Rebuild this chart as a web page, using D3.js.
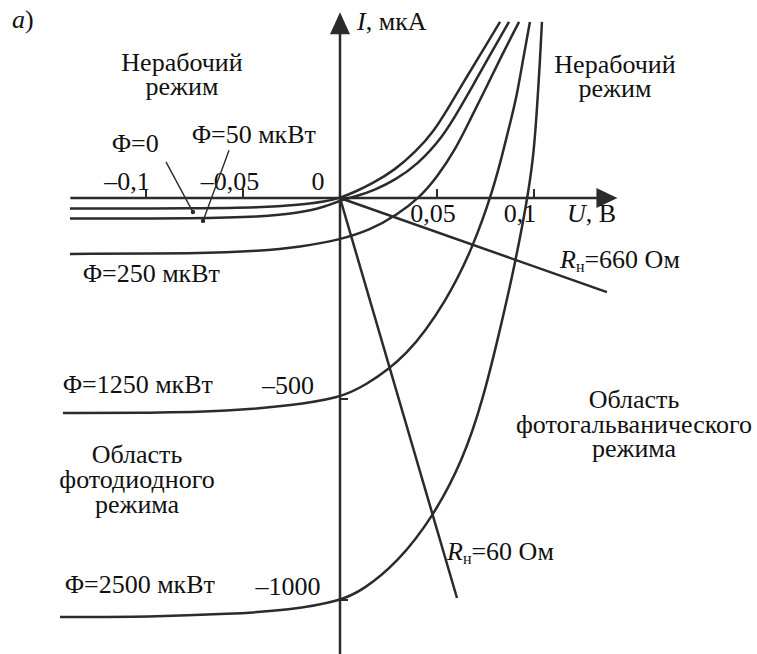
<!doctype html>
<html>
<head>
  <meta charset="utf-8">
  <title>ВАХ фотодиода</title>
  <script src="https://cdnjs.cloudflare.com/ajax/libs/d3/7.8.5/d3.min.js"></script>
  <style>
  html, body { margin: 0; padding: 0; background: #fff; }
  svg { display: block; }
  .curve { fill: none; stroke: #2b2b2b; stroke-width: 2.5px; }
  .axis { fill: none; stroke: #2b2b2b; stroke-width: 2.5px; }
  .tick { stroke: #2b2b2b; stroke-width: 2px; }
  .pointer { stroke: #2b2b2b; stroke-width: 1.4px; }
  text { font-family: "Liberation Serif", "Times New Roman", serif; font-size: 26px; fill: #111; }
  </style>
</head>
<body>
  <script>
  // U, В  /  I, мкА
  var uTicks = [-0.1, -0.05, 0.05, 0.1],
    uTickLabels = ["–0,1", "–0,05", "0,05", "0,1"],
    iTicks = [-500, -1000],
    iTickLabels = ["–500", "–1000"];

  // характеристики при разных потоках
  var flux0 = [[-0.1392, -26], [-0.0722, -26], [-0.0412, -24], [-0.0206, -17], [-0.0077, -9], [0, 0],
    [0.0077, 15], [0.0170, 37], [0.0284, 70], [0.0387, 114], [0.0479, 162], [0.0567, 231],
    [0.0644, 294], [0.0722, 356], [0.0825, 438]];
  var flux50 = [[-0.1392, -51], [-0.0722, -51], [-0.0412, -47], [-0.0206, -37], [-0.0077, -22], [0, -6],
    [0.0088, 5], [0.0180, 20], [0.0284, 45], [0.0397, 82], [0.0531, 152], [0.0619, 224],
    [0.0696, 289], [0.0773, 356], [0.0871, 438]];
  var flux250 = [[-0.1392, -139], [-0.0722, -138], [-0.0412, -132], [-0.0206, -122], [0, -104],
    [0.0155, -80], [0.0294, -42], [0.0412, 2], [0.0500, 52], [0.0593, 119], [0.0670, 194],
    [0.0753, 274], [0.0835, 356], [0.0923, 438]];
  var flux1250 = [[-0.1428, -535], [-0.0979, -535], [-0.0567, -530], [-0.0258, -517], [0, -497],
    [0.0119, -470], [0.0345, -396], [0.0552, -254], [0.0686, -122], [0.0789, 20], [0.0840, 114],
    [0.0881, 194], [0.0912, 256], [0.0943, 343], [0.0979, 438]];
  var flux2500 = [[-0.1443, -1042], [-0.0979, -1042], [-0.0567, -1035], [-0.0258, -1025], [0, -1003],
    [0.0119, -975], [0.0294, -908], [0.0479, -794], [0.0634, -652], [0.0737, -502], [0.0825, -328],
    [0.0907, -154], [0.0974, 20], [0.1000, 119], [0.1015, 219], [0.1031, 343], [0.1041, 438]];

  // нагрузочные прямые
  var load660 = [[0, 0], [0.1376, -234]],
    load60 = [[0, 0], [0.0603, -995]];

  // выноски к подписям Φ=0 и Φ=50
  var pointer0 = [[-0.0897, 90], [-0.0758, -35]],
    pointer50 = [[-0.0572, 119], [-0.0706, -57]];

  var uExtent = [-0.139, 0.143],
    iExtent = [-1140, 462];

  var width = 757, height = 654;

  var svg = d3.select("body").append("svg")
    .attr("width", width)
    .attr("height", height);

  svg.append("rect").attr("width", width).attr("height", height).attr("fill", "#fff");

  var x = d3.scaleLinear().domain([-0.1, 0.1]).range([146, 534]);
  var y = d3.scaleLinear().domain([0, -1000]).range([198, 600]);

  var line = d3.line()
    .x(function(d) { return x(d[0]); })
    .y(function(d) { return y(d[1]); });

  var smooth = d3.line()
    .curve(d3.curveBasis)
    .x(function(d) { return x(d[0]); })
    .y(function(d) { return y(d[1]); });

  // оси
  var x0 = x(0), y0 = y(0),
    xEnd = x(uExtent[1]), yTop = y(iExtent[1]);

  svg.append("line").attr("class", "axis")
    .attr("x1", x(uExtent[0])).attr("x2", xEnd - 6)
    .attr("y1", y0).attr("y2", y0);
  svg.append("line").attr("class", "axis")
    .attr("x1", x0).attr("x2", x0)
    .attr("y1", y(iExtent[0])).attr("y2", yTop + 6);

  svg.append("path").attr("fill", "#2b2b2b")
    .attr("d", "M" + xEnd + "," + y0 + "L" + (xEnd - 21) + "," + (y0 - 10) + "L" + (xEnd - 21) + "," + (y0 + 10) + "Z");
  svg.append("path").attr("fill", "#2b2b2b")
    .attr("d", "M" + x0 + "," + yTop + "L" + (x0 - 10) + "," + (yTop + 22) + "L" + (x0 + 10) + "," + (yTop + 22) + "Z");

  // деления
  svg.selectAll(".utick").data(uTicks).enter().append("line")
    .attr("class", "tick")
    .attr("x1", function(d) { return x(d); }).attr("x2", function(d) { return x(d); })
    .attr("y1", y0).attr("y2", y0 - 9);
  svg.selectAll(".itick").data(iTicks).enter().append("line")
    .attr("class", "tick")
    .attr("x1", x0).attr("x2", x0 + 8)
    .attr("y1", function(d) { return y(d); }).attr("y2", function(d) { return y(d); });

  var uLabelShift = [-19, -13, -4, -14];
  svg.selectAll(".ulabel").data(uTicks).enter().append("text")
    .attr("text-anchor", "middle")
    .attr("x", function(d, i) { return x(d) + uLabelShift[i]; })
    .attr("y", function(d) { return d < 0 ? y0 - 8 : y0 + 24; })
    .text(function(d, i) { return uTickLabels[i]; });
  svg.append("text").attr("text-anchor", "middle")
    .attr("x", x0 - 22).attr("y", y0 - 8).text("0");

  svg.selectAll(".ilabel").data(iTicks).enter().append("text")
    .attr("text-anchor", "middle")
    .attr("x", x0 - 52)
    .attr("y", function(d) { return y(d) - 5; })
    .text(function(d, i) { return iTickLabels[i]; });

  // кривые
  [flux0, flux50, flux250, flux1250, flux2500].forEach(function(c) {
    svg.append("path").datum(c).attr("class", "curve").attr("d", smooth);
  });
  [load660, load60].forEach(function(c) {
    svg.append("path").datum(c).attr("class", "curve").attr("d", line);
  });

  [pointer0, pointer50].forEach(function(p) {
    svg.append("path").datum(p).attr("class", "pointer").attr("d", line);
    svg.append("circle").attr("cx", x(p[1][0])).attr("cy", y(p[1][1])).attr("r", 2.2).attr("fill", "#2b2b2b");
  });

  // подписи
  function label(tx, ty, str, anchor) {
    return svg.append("text").attr("x", tx).attr("y", ty)
      .attr("text-anchor", anchor || "middle").text(str);
  }

  // многострочная подпись одним элементом text
  function block(tx, ty, lines, lh) {
    var t = svg.append("text").attr("x", tx).attr("y", ty).attr("text-anchor", "middle");
    lines.forEach(function(s, i) {
      t.append("tspan").attr("x", tx).attr("dy", i ? lh : 0).text(s);
    });
  }

  var a = svg.append("text").attr("x", 12).attr("y", 28);
  a.append("tspan").attr("font-style", "italic").text("a");
  a.append("tspan").text(")");

  var iLab = svg.append("text").attr("x", x0 + 17).attr("y", 30);
  iLab.append("tspan").attr("font-style", "italic").text("I");
  iLab.append("tspan").text(", мкА");

  var uLab = svg.append("text").attr("x", 567).attr("y", 222);
  uLab.append("tspan").attr("font-style", "italic").text("U");
  uLab.append("tspan").text(", В");

  block(182, 71, ["Нерабочий", "режим"], 24);
  block(615, 73, ["Нерабочий", "режим"], 24);

  label(112, 152, "Φ=0", "start");
  label(192, 143, "Φ=50 мкВт", "start");
  label(83, 282, "Φ=250 мкВт", "start");
  label(63, 393, "Φ=1250 мкВт", "start");
  label(65, 593, "Φ=2500 мкВт", "start");

  block(137, 463, ["Область", "фотодиодного", "режима"], 25);
  block(634, 408, ["Область", "фотогальванического", "режима"], 24.5);

  function rLabel(tx, ty, val) {
    var t = svg.append("text").attr("x", tx).attr("y", ty);
    t.append("tspan").attr("font-style", "italic").text("R");
    t.append("tspan").attr("font-size", "16px").attr("dy", 4).text("н");
    t.append("tspan").attr("dy", -4).text("=" + val + " Ом");
  }
  rLabel(560, 268, "660");
  rLabel(447, 560, "60");
  </script>
</body>
</html>
